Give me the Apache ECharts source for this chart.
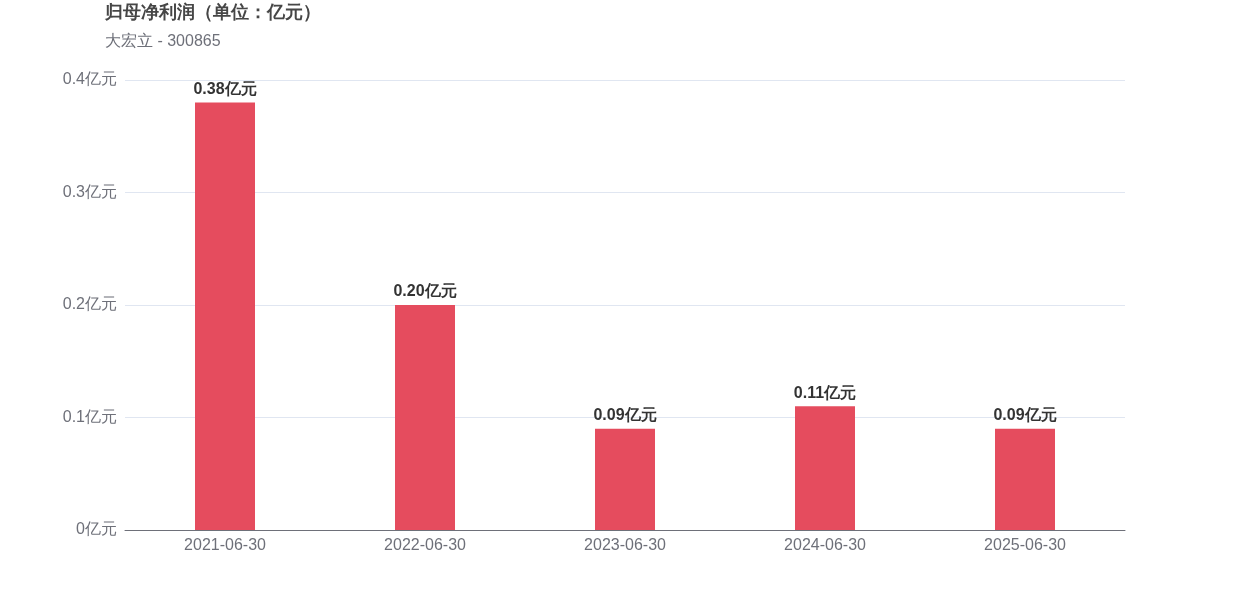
<!DOCTYPE html>
<html>
<head>
<meta charset="utf-8">
<script src="https://cdn.jsdelivr.net/npm/echarts@6/dist/echarts.min.js"></script>
<style>
  html, body { margin: 0; padding: 0; background: #fff; }
  #main { width: 1250px; height: 600px; }
</style>
</head>
<body>
<div id="main"></div>
<script>
var categories = ["2021-06-30", "2022-06-30", "2023-06-30", "2024-06-30", "2025-06-30"];
var profitValues = [0.38, 0.20, 0.09, 0.11, 0.09];

var myChart = echarts.init(document.getElementById("main"));
var option;

option = {
  title: {
    text: "归母净利润（单位：亿元）",
    subtext: "大宏立 - 300865",
    left: 100,
    top: -1,
    itemGap: 12,
    textStyle: { fontSize: 18, fontWeight: "bold", color: "#464646" },
    subtextStyle: { fontSize: 16, color: "#6e7079" }
  },
  grid: { left: 125, right: 125, top: 80, bottom: 70 },
  xAxis: {
    type: "category",
    data: categories,
    axisTick: { show: false },
    axisLine: { lineStyle: { color: "#6e7079" } },
    axisLabel: { fontSize: 16, color: "#6e7079", margin: 8 }
  },
  yAxis: {
    type: "value",
    min: 0,
    max: 0.4,
    interval: 0.1,
    axisLabel: {
      fontSize: 16,
      color: "#6e7079",
      formatter: function (v) { return v + "亿元"; }
    },
    splitLine: { lineStyle: { color: "#e0e6f1" } }
  },
  series: [
    {
      type: "bar",
      data: profitValues,
      barWidth: "30%",
      itemStyle: { color: "#e54c5e" },
      label: {
        show: true,
        position: "top",
        fontSize: 16,
        fontWeight: "bold",
        color: "#333",
        formatter: function (p) { return p.value.toFixed(2) + "亿元"; }
      }
    }
  ]
};

option && myChart.setOption(option);
</script>
</body>
</html>
